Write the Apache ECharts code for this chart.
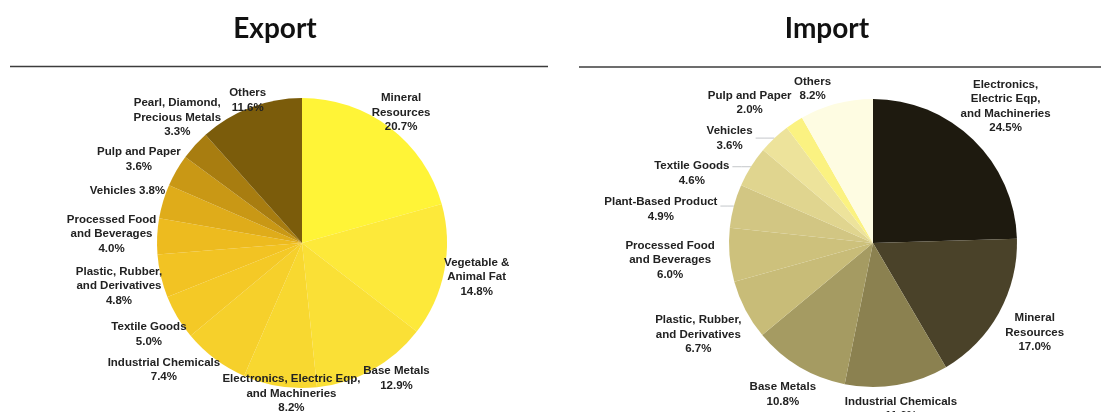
<!DOCTYPE html>
<html>
<head>
<meta charset="utf-8">
<script src="https://cdn.jsdelivr.net/npm/echarts@6/dist/echarts.min.js"></script>
<style>
  html, body { margin: 0; padding: 0; background: #ffffff; }
  #chart { width: 1102px; height: 412px; }
</style>
</head>
<body>
<div id="chart"></div>
<script>
// Export composition, clockwise from 12 o'clock (share of total, %)
const exportCategories = [
  'Mineral\nResources',
  'Vegetable &\nAnimal Fat',
  'Base Metals',
  'Electronics, Electric Eqp,\nand Machineries',
  'Industrial Chemicals',
  'Textile Goods',
  'Plastic, Rubber,\nand Derivatives',
  'Processed Food\nand Beverages',
  'Vehicles',
  'Pulp and Paper',
  'Pearl, Diamond,\nPrecious Metals',
  'Others'
];
const exportShares = [20.7, 14.8, 12.9, 8.2, 7.4, 5.0, 4.8, 4.0, 3.8, 3.6, 3.3, 11.6];
// categories whose value sits on the same line as the name
const exportInlineValue = ['Vehicles'];

// Import composition, clockwise from 12 o'clock (share of total, %)
const importCategories = [
  'Electronics,\nElectric Eqp,\nand Machineries',
  'Mineral\nResources',
  'Industrial Chemicals',
  'Base Metals',
  'Plastic, Rubber,\nand Derivatives',
  'Processed Food\nand Beverages',
  'Plant-Based Product',
  'Textile Goods',
  'Vehicles',
  'Pulp and Paper',
  'Others'
];
const importShares = [24.5, 17.0, 11.6, 10.8, 6.7, 6.0, 4.9, 4.6, 3.6, 2.0, 8.2];
const importInlineValue = [];

// palettes
const exportColors = ['#FFF437', '#FDE93A', '#FAE036', '#F8D830', '#F6D02B', '#F4C926',
                      '#F2C323', '#EDBB1F', '#DFAC1A', '#C99815', '#A87D10', '#7B5C0B'];
const importColors = ['#1E1A0F', '#4A4229', '#8B8150', '#A59B62', '#C8BC78', '#CDC17C',
                      '#D2C683', '#E0D58F', '#EDE39B', '#FBF281', '#FEFCE2'];

// pie geometry (pixels); top = highest a label may reach
const exportGeom = { cx: 302, cy: 243, r: 145, gap: 1, padY: 5, top: 74, leader: false };
const importGeom = { cx: 873, cy: 243, r: 144, gap: 15, padY: 6, top: 74, leader: true };

const LABEL_FONT_SIZE = 11.5;
const LABEL_LINE_HEIGHT = 14.5;
const LABEL_FAMILY = '"Liberation Sans", Arial, sans-serif';

function labelText(name, value, inline) {
  return name + (inline.indexOf(name) >= 0 ? ' ' : '\n') + value.toFixed(1) + '%';
}

const measureCtx = document.createElement('canvas').getContext('2d');
measureCtx.font = 'bold ' + LABEL_FONT_SIZE + 'px ' + LABEL_FAMILY;

// Works out where each label goes: centred just outside its slice along the
// mid angle, then nudged round the circle until no two labels collide and
// none rises above the header rule.
function placeLabels(categories, shares, inline, geom) {
  const total = shares.reduce((a, b) => a + b, 0);
  let acc = 0;
  const items = shares.map((v, i) => {
    const mid = (acc + v / 2) / total * Math.PI * 2;
    acc += v;
    const lines = labelText(categories[i], v, inline).split('\n');
    const w = Math.max.apply(null, lines.map(l => measureCtx.measureText(l).width));
    return { mid: mid, ang: mid, w: w, h: lines.length * LABEL_LINE_HEIGHT };
  });
  const centreOf = it => {
    const sx = Math.sin(it.ang), sy = -Math.cos(it.ang);
    const reach = geom.r + geom.gap + Math.abs(sx) * it.w / 2;
    return [geom.cx + sx * reach, geom.cy + sy * reach];
  };
  const collide = (a, b) => {
    const ca = centreOf(a), cb = centreOf(b);
    return Math.abs(ca[0] - cb[0]) < (a.w + b.w) / 2 + 2 &&
           Math.abs(ca[1] - cb[1]) < (a.h + b.h) / 2 + geom.padY;
  };
  const step = 0.2 * Math.PI / 180;
  for (let iter = 0; iter < 1000; iter++) {
    let moved = false;
    items.forEach(it => {
      if (centreOf(it)[1] - it.h / 2 < geom.top) {
        it.ang += Math.sin(it.ang) >= 0 ? step : -step;
        moved = true;
      }
    });
    for (let i = 0; i < items.length; i++) {
      for (let j = i + 1; j < items.length; j++) {
        if (!collide(items[i], items[j])) continue;
        let d = items[j].ang - items[i].ang;
        while (d > Math.PI) d -= Math.PI * 2;
        while (d <= -Math.PI) d += Math.PI * 2;
        const first = d > 0 ? items[i] : items[j];
        const second = d > 0 ? items[j] : items[i];
        first.ang -= step;
        second.ang += step;
        moved = true;
      }
    }
    if (!moved) break;
  }
  return items.map(it => {
    const c = centreOf(it);
    const edge = [geom.cx + Math.sin(it.mid) * geom.r, geom.cy - Math.cos(it.mid) * geom.r];
    // nearest point of the label box to the slice edge
    const ax = Math.min(Math.max(edge[0], c[0] - it.w / 2 - 3), c[0] + it.w / 2 + 3);
    const ay = Math.min(Math.max(edge[1], c[1] - it.h / 2 + 4), c[1] + it.h / 2 - 4);
    const len = Math.hypot(ax - edge[0], ay - edge[1]);
    // leader lines only for the upper labels that sit clear of the pie
    const line = (len > 12 && edge[1] < geom.cy)
      ? [edge, [(edge[0] + ax) / 2, (edge[1] + ay) / 2], [ax, ay]]
      : [edge, edge, edge];
    return { x: c[0], y: c[1], line: line };
  });
}

function pieSeries(categories, shares, colors, inline, geom) {
  const spots = placeLabels(categories, shares, inline, geom);
  return {
    type: 'pie',
    center: [geom.cx, geom.cy],
    radius: geom.r,
    startAngle: 90,
    clockwise: true,
    avoidLabelOverlap: false,
    silent: true,
    data: categories.map((name, i) => ({
      name: name,
      value: shares[i],
      itemStyle: { color: colors[i] }
    })),
    itemStyle: { borderWidth: 0 },
    label: {
      show: true,
      position: 'outside',
      formatter: p => labelText(p.name, p.value, inline),
      fontFamily: LABEL_FAMILY,
      fontWeight: 'bold',
      fontSize: LABEL_FONT_SIZE,
      lineHeight: LABEL_LINE_HEIGHT,
      color: '#222222'
    },
    labelLine: {
      show: geom.leader,
      length: 10,
      length2: 10,
      smooth: false,
      lineStyle: { color: '#c4c7ca', width: 1 }
    },
    labelLayout: params => {
      const s = spots[params.dataIndex];
      return { x: s.x, y: s.y, align: 'center', verticalAlign: 'middle', labelLinePoints: s.line };
    },
    emphasis: { disabled: true }
  };
}

const chart = echarts.init(document.getElementById('chart'), null, { renderer: 'canvas' });
chart.setOption({
  animation: false,
  backgroundColor: '#ffffff',
  graphic: [
    { type: 'text', x: 275, y: 29,
      style: { text: 'Export', align: 'center', verticalAlign: 'middle',
               font: 'bold 28px Lato, "Open Sans", sans-serif', fill: '#111111' } },
    { type: 'text', x: 827, y: 29,
      style: { text: 'Import', align: 'center', verticalAlign: 'middle',
               font: 'bold 28px Lato, "Open Sans", sans-serif', fill: '#111111' } },
    { type: 'line', shape: { x1: 10, y1: 66.5, x2: 548, y2: 66.5 },
      style: { stroke: '#3c3c3c', lineWidth: 1.5 } },
    { type: 'line', shape: { x1: 579, y1: 67, x2: 1101, y2: 67 },
      style: { stroke: '#3c3c3c', lineWidth: 1.5 } }
  ],
  series: [
    pieSeries(exportCategories, exportShares, exportColors, exportInlineValue, exportGeom),
    pieSeries(importCategories, importShares, importColors, importInlineValue, importGeom)
  ]
});
</script>
</body>
</html>
